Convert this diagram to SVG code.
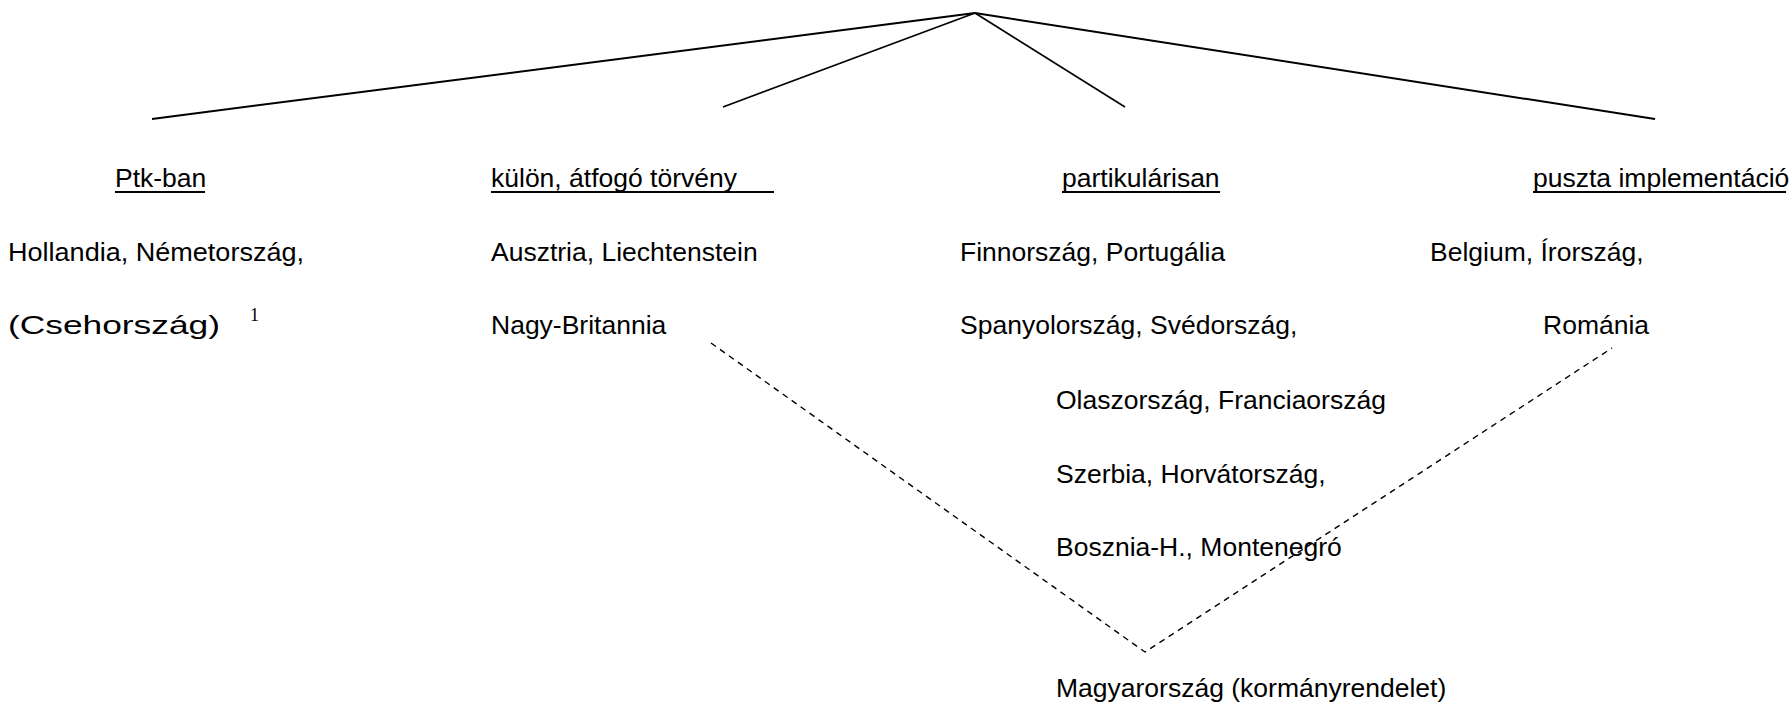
<svg xmlns="http://www.w3.org/2000/svg" width="1789" height="710" viewBox="0 0 1789 710">
<style>
  text { font-family: "Liberation Sans", Arial, sans-serif; font-size: 26.5px; fill: #000; }
  .sup { font-family: "Liberation Serif", "Times New Roman", serif; font-size: 18px; }
  .ul { stroke: #000; stroke-width: 2; }
  .solid { stroke: #000; fill: none; }
  .dash { stroke: #000; stroke-width: 1.4; fill: none; stroke-dasharray: 6 5; }
</style>
<rect width="1789" height="710" fill="#fff"/>
<g id="connectors">
  <line class="solid" stroke-width="2" x1="975" y1="13" x2="152" y2="119"/>
  <line class="solid" stroke-width="1.7" x1="975" y1="13" x2="723" y2="107"/>
  <line class="solid" stroke-width="1.7" x1="975" y1="13" x2="1125" y2="107"/>
  <line class="solid" stroke-width="2" x1="975" y1="13" x2="1655" y2="119"/>
  <polyline class="dash" points="711,343 1145,652 1612,348"/>
</g>
<g id="col-ptk">
  <text x="115" y="187">Ptk-ban</text>
  <line class="ul" x1="115" y1="192" x2="205" y2="192"/>
  <text x="8" y="261" textLength="296" lengthAdjust="spacingAndGlyphs">Hollandia, Németország,</text>
  <text x="8" y="334" textLength="212" lengthAdjust="spacingAndGlyphs">(Csehország)</text>
  <text class="sup" x="250" y="321">1</text>
</g>
<g id="col-kulon">
  <text x="491" y="187">külön, átfogó törvény</text>
  <line class="ul" x1="491" y1="192" x2="774" y2="192"/>
  <text x="491" y="261">Ausztria, Liechtenstein</text>
  <text x="491" y="334">Nagy-Britannia</text>
</g>
<g id="col-partikularisan">
  <text x="1062" y="187">partikulárisan</text>
  <line class="ul" x1="1062" y1="192" x2="1220" y2="192"/>
  <text x="960" y="261">Finnország, Portugália</text>
  <text x="960" y="334">Spanyolország, Svédország,</text>
  <text x="1056" y="409">Olaszország, Franciaország</text>
  <text x="1056" y="483">Szerbia, Horvátország,</text>
  <text x="1056" y="556">Bosznia-H., Montenegró</text>
</g>
<g id="col-puszta">
  <text x="1533" y="187">puszta implementáció</text>
  <line class="ul" x1="1533" y1="192" x2="1786" y2="192"/>
  <text x="1430" y="261">Belgium, Írország,</text>
  <text x="1543" y="334">Románia</text>
</g>
<g id="magyarorszag">
  <text x="1056" y="697">Magyarország (kormányrendelet)</text>
</g>
</svg>
